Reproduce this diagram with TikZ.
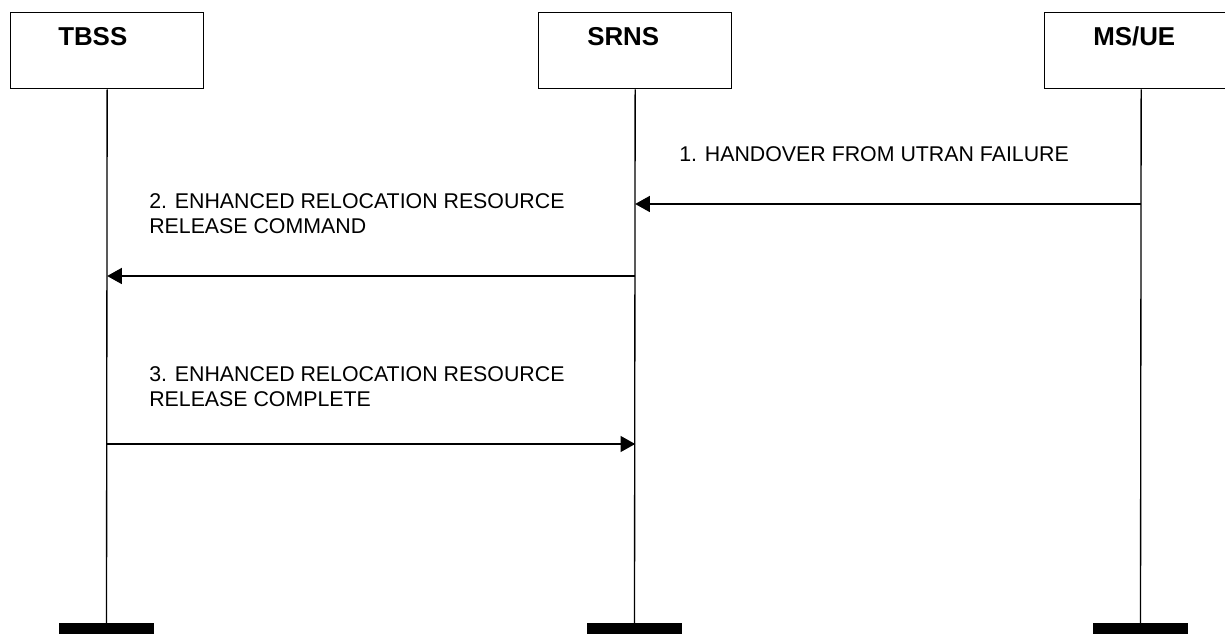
\documentclass[tikz,border=0pt]{standalone}
\usepackage{fontspec}
\setmainfont{Liberation Sans}
\usetikzlibrary{arrows.meta}
\begin{document}
\begin{tikzpicture}[x=0.75pt,y=-0.75pt,
 entity/.style={draw,line width=1pt,minimum width=144.75pt,minimum height=57pt,inner sep=0pt,anchor=north west},
 title/.style={font=\bfseries\fontsize{19.4}{23}\selectfont,anchor=base west,inner sep=0pt},
 bar/.style={fill=black,minimum width=71.25pt,minimum height=8.25pt,inner sep=0pt,anchor=north},
 life/.style={line width=1pt},
 msg/.style={line width=1.1pt,-{Triangle[length=11pt,width=12pt]}},
 lbl/.style={font=\fontsize{16}{18.75}\selectfont,anchor=base west,inner sep=0pt,align=left}]
\useasboundingbox (0,0) rectangle (1225,634);
\clip (0,0) rectangle (1225,634);
% entity boxes
\node[entity] (tbss) at (10,12) {};
\node[entity] (srns) at (538,12) {};
\node[entity] (msue) at (1044,12) {};
\node[title] (tbsst) at (58,46) {TBSS};
\node[title] (srnst) at (587,46) {SRNS};
\node[title] (msuet) at (1093,46) {MS/UE};
% bottom bars
\node[bar] (tbssbar) at (106.5,623) {};
\node[bar] (srnsbar) at (634.5,623) {};
\node[bar] (msuebar) at (1140.5,623) {};
% lifelines
\draw[life] (tbss.south) -- (tbssbar.north);
\draw[life] (srns.south) -- (srnsbar.north);
\draw[life] (msue.south) -- (msuebar.north);
% messages
\draw[msg] (msue.south |- 0,204) -- (srns.south |- 0,204);
\draw[msg] (srns.south |- 0,276) -- (tbss.south |- 0,276);
\draw[msg] (tbss.south |- 0,444) -- (srns.south |- 0,444);
\node[lbl] (l1) at (679,162) {1. HANDOVER FROM UTRAN FAILURE};
\node[lbl] (l2) at (149,234) {2. ENHANCED RELOCATION RESOURCE\\RELEASE COMMAND};
\node[lbl] (l3) at (149,407) {3. ENHANCED RELOCATION RESOURCE\\RELEASE COMPLETE};
\end{tikzpicture}
\end{document}
